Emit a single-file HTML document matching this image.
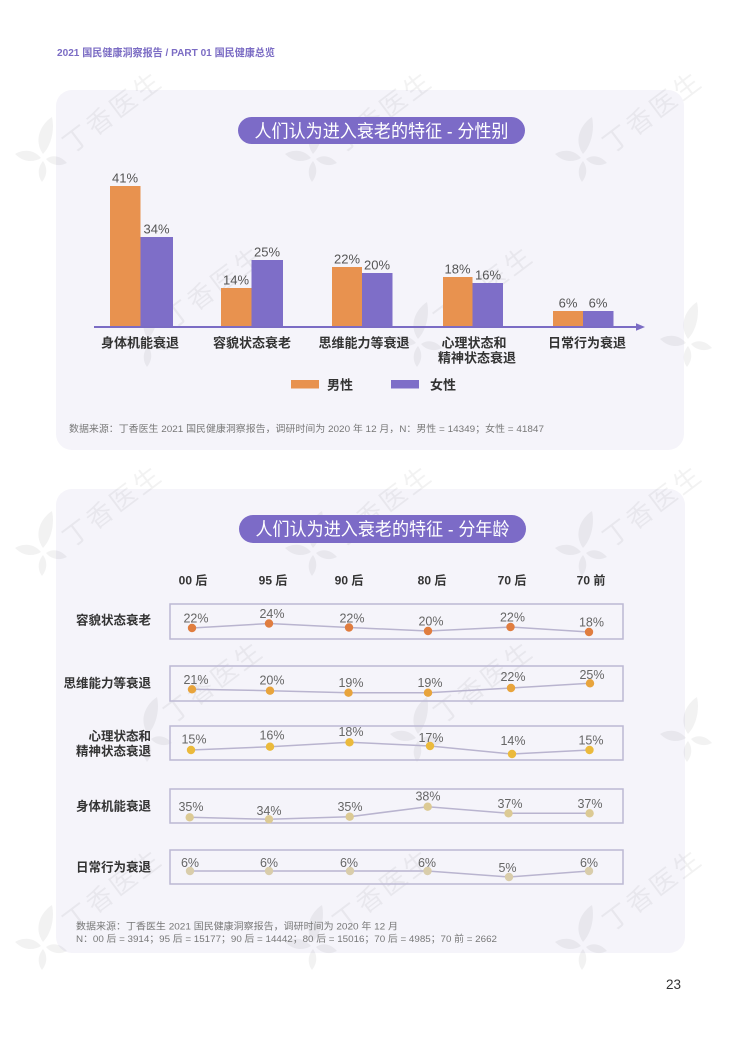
<!DOCTYPE html>
<html><head><meta charset="utf-8"><style>
html,body{margin:0;padding:0;background:#fff;}
svg{display:block;}
</style></head><body>
<svg width="735" height="1039" viewBox="0 0 735 1039" xmlns="http://www.w3.org/2000/svg" font-family="'Liberation Sans','Noto Sans CJK SC',sans-serif">
<rect width="735" height="1039" fill="#ffffff"/>
<text x="57" y="56" font-size="10.5" font-weight="bold" fill="#7b6cc4" textLength="218" lengthAdjust="spacingAndGlyphs">2021 国民健康洞察报告 / PART 01 国民健康总览</text>

<!-- cards -->
<rect x="56" y="90" width="628" height="360" rx="16" fill="#f5f4fa"/>
<rect x="56" y="489" width="629" height="464" rx="16" fill="#f5f4fa"/>

<!-- watermarks -->
<g fill="#000" fill-opacity="0.05">
  <g transform="translate(43,158)"><path d="M0,-4 C-10,-18 -2,-34 9,-41 C12,-28 8,-12 0,-4 Z M-2,0 C-10,-10 -22,-8 -28,-4 C-20,4 -10,5 -2,0 Z M3,1 C10,-4 18,-2 24,5 C16,9 8,7 3,1 Z M0,3 C5,10 4,18 -1,24 C-6,17 -5,9 0,3 Z"/><text transform="translate(74,-38) rotate(-37)" font-size="26" text-anchor="middle" textLength="114">丁香医生</text></g>
  <g transform="translate(313,158)"><path d="M0,-4 C-10,-18 -2,-34 9,-41 C12,-28 8,-12 0,-4 Z M-2,0 C-10,-10 -22,-8 -28,-4 C-20,4 -10,5 -2,0 Z M3,1 C10,-4 18,-2 24,5 C16,9 8,7 3,1 Z M0,3 C5,10 4,18 -1,24 C-6,17 -5,9 0,3 Z"/><text transform="translate(74,-38) rotate(-37)" font-size="26" text-anchor="middle" textLength="114">丁香医生</text></g>
  <g transform="translate(583,158)"><path d="M0,-4 C-10,-18 -2,-34 9,-41 C12,-28 8,-12 0,-4 Z M-2,0 C-10,-10 -22,-8 -28,-4 C-20,4 -10,5 -2,0 Z M3,1 C10,-4 18,-2 24,5 C16,9 8,7 3,1 Z M0,3 C5,10 4,18 -1,24 C-6,17 -5,9 0,3 Z"/><text transform="translate(74,-38) rotate(-37)" font-size="26" text-anchor="middle" textLength="114">丁香医生</text></g>
  <g transform="translate(148,343)"><path d="M0,-4 C-10,-18 -2,-34 9,-41 C12,-28 8,-12 0,-4 Z M-2,0 C-10,-10 -22,-8 -28,-4 C-20,4 -10,5 -2,0 Z M3,1 C10,-4 18,-2 24,5 C16,9 8,7 3,1 Z M0,3 C5,10 4,18 -1,24 C-6,17 -5,9 0,3 Z"/><text transform="translate(70,-48) rotate(-37)" font-size="26" text-anchor="middle" textLength="114">丁香医生</text></g>
  <g transform="translate(418,343)"><path d="M0,-4 C-10,-18 -2,-34 9,-41 C12,-28 8,-12 0,-4 Z M-2,0 C-10,-10 -22,-8 -28,-4 C-20,4 -10,5 -2,0 Z M3,1 C10,-4 18,-2 24,5 C16,9 8,7 3,1 Z M0,3 C5,10 4,18 -1,24 C-6,17 -5,9 0,3 Z"/><text transform="translate(70,-48) rotate(-37)" font-size="26" text-anchor="middle" textLength="114">丁香医生</text></g>
  <g transform="translate(688,343)"><path d="M0,-4 C-10,-18 -2,-34 9,-41 C12,-28 8,-12 0,-4 Z M-2,0 C-10,-10 -22,-8 -28,-4 C-20,4 -10,5 -2,0 Z M3,1 C10,-4 18,-2 24,5 C16,9 8,7 3,1 Z M0,3 C5,10 4,18 -1,24 C-6,17 -5,9 0,3 Z"/></g>
  <g transform="translate(43,552)"><path d="M0,-4 C-10,-18 -2,-34 9,-41 C12,-28 8,-12 0,-4 Z M-2,0 C-10,-10 -22,-8 -28,-4 C-20,4 -10,5 -2,0 Z M3,1 C10,-4 18,-2 24,5 C16,9 8,7 3,1 Z M0,3 C5,10 4,18 -1,24 C-6,17 -5,9 0,3 Z"/><text transform="translate(74,-38) rotate(-37)" font-size="26" text-anchor="middle" textLength="114">丁香医生</text></g>
  <g transform="translate(313,552)"><path d="M0,-4 C-10,-18 -2,-34 9,-41 C12,-28 8,-12 0,-4 Z M-2,0 C-10,-10 -22,-8 -28,-4 C-20,4 -10,5 -2,0 Z M3,1 C10,-4 18,-2 24,5 C16,9 8,7 3,1 Z M0,3 C5,10 4,18 -1,24 C-6,17 -5,9 0,3 Z"/><text transform="translate(74,-38) rotate(-37)" font-size="26" text-anchor="middle" textLength="114">丁香医生</text></g>
  <g transform="translate(583,552)"><path d="M0,-4 C-10,-18 -2,-34 9,-41 C12,-28 8,-12 0,-4 Z M-2,0 C-10,-10 -22,-8 -28,-4 C-20,4 -10,5 -2,0 Z M3,1 C10,-4 18,-2 24,5 C16,9 8,7 3,1 Z M0,3 C5,10 4,18 -1,24 C-6,17 -5,9 0,3 Z"/><text transform="translate(74,-38) rotate(-37)" font-size="26" text-anchor="middle" textLength="114">丁香医生</text></g>
  <g transform="translate(148,738)"><path d="M0,-4 C-10,-18 -2,-34 9,-41 C12,-28 8,-12 0,-4 Z M-2,0 C-10,-10 -22,-8 -28,-4 C-20,4 -10,5 -2,0 Z M3,1 C10,-4 18,-2 24,5 C16,9 8,7 3,1 Z M0,3 C5,10 4,18 -1,24 C-6,17 -5,9 0,3 Z"/><text transform="translate(70,-48) rotate(-37)" font-size="26" text-anchor="middle" textLength="114">丁香医生</text></g>
  <g transform="translate(418,738)"><path d="M0,-4 C-10,-18 -2,-34 9,-41 C12,-28 8,-12 0,-4 Z M-2,0 C-10,-10 -22,-8 -28,-4 C-20,4 -10,5 -2,0 Z M3,1 C10,-4 18,-2 24,5 C16,9 8,7 3,1 Z M0,3 C5,10 4,18 -1,24 C-6,17 -5,9 0,3 Z"/><text transform="translate(70,-48) rotate(-37)" font-size="26" text-anchor="middle" textLength="114">丁香医生</text></g>
  <g transform="translate(688,738)"><path d="M0,-4 C-10,-18 -2,-34 9,-41 C12,-28 8,-12 0,-4 Z M-2,0 C-10,-10 -22,-8 -28,-4 C-20,4 -10,5 -2,0 Z M3,1 C10,-4 18,-2 24,5 C16,9 8,7 3,1 Z M0,3 C5,10 4,18 -1,24 C-6,17 -5,9 0,3 Z"/></g>
  <g transform="translate(43,946)"><path d="M0,-4 C-10,-18 -2,-34 9,-41 C12,-28 8,-12 0,-4 Z M-2,0 C-10,-10 -22,-8 -28,-4 C-20,4 -10,5 -2,0 Z M3,1 C10,-4 18,-2 24,5 C16,9 8,7 3,1 Z M0,3 C5,10 4,18 -1,24 C-6,17 -5,9 0,3 Z"/><text transform="translate(74,-48) rotate(-37)" font-size="26" text-anchor="middle" textLength="114">丁香医生</text></g>
  <g transform="translate(313,946)"><path d="M0,-4 C-10,-18 -2,-34 9,-41 C12,-28 8,-12 0,-4 Z M-2,0 C-10,-10 -22,-8 -28,-4 C-20,4 -10,5 -2,0 Z M3,1 C10,-4 18,-2 24,5 C16,9 8,7 3,1 Z M0,3 C5,10 4,18 -1,24 C-6,17 -5,9 0,3 Z"/><text transform="translate(74,-48) rotate(-37)" font-size="26" text-anchor="middle" textLength="114">丁香医生</text></g>
  <g transform="translate(583,946)"><path d="M0,-4 C-10,-18 -2,-34 9,-41 C12,-28 8,-12 0,-4 Z M-2,0 C-10,-10 -22,-8 -28,-4 C-20,4 -10,5 -2,0 Z M3,1 C10,-4 18,-2 24,5 C16,9 8,7 3,1 Z M0,3 C5,10 4,18 -1,24 C-6,17 -5,9 0,3 Z"/><text transform="translate(74,-48) rotate(-37)" font-size="26" text-anchor="middle" textLength="114">丁香医生</text></g>
</g>

<!-- ===== Chart 1 ===== -->
<rect x="238" y="117" width="287" height="27" rx="13.5" fill="#7c6bc7"/>
<text x="381.5" y="137.5" font-size="18" fill="#ffffff" text-anchor="middle" textLength="254" lengthAdjust="spacingAndGlyphs">人们认为进入衰老的特征 - 分性别</text>

<g>
  <rect x="110" y="186" width="30.5" height="141" fill="#e8924f"/>
  <rect x="140.5" y="237" width="32.5" height="90" fill="#7e6ec8"/>
  <rect x="221" y="288" width="30.5" height="39" fill="#e8924f"/>
  <rect x="251.5" y="260" width="31.5" height="67" fill="#7e6ec8"/>
  <rect x="332" y="267" width="30" height="60" fill="#e8924f"/>
  <rect x="362" y="273" width="30.5" height="54" fill="#7e6ec8"/>
  <rect x="443" y="277" width="29.5" height="50" fill="#e8924f"/>
  <rect x="472.5" y="283" width="30.5" height="44" fill="#7e6ec8"/>
  <rect x="553" y="311" width="30" height="16" fill="#e8924f"/>
  <rect x="583" y="311" width="30.5" height="16" fill="#7e6ec8"/>
</g>
<g font-size="13" fill="#555" text-anchor="middle">
  <text x="125" y="182.5">41%</text>
  <text x="156.5" y="233.5">34%</text>
  <text x="236" y="284.5">14%</text>
  <text x="267" y="256.5">25%</text>
  <text x="347" y="263.5">22%</text>
  <text x="377" y="269.5">20%</text>
  <text x="457.5" y="273.5">18%</text>
  <text x="488" y="279.5">16%</text>
  <text x="568" y="307.5">6%</text>
  <text x="598" y="307.5">6%</text>
</g>
<line x1="94" y1="327" x2="638" y2="327" stroke="#7b6cc4" stroke-width="2"/>
<polygon points="636,323.3 645,327 636,330.7" fill="#7b6cc4"/>

<g font-size="13" font-weight="bold" fill="#333" text-anchor="middle">
  <text x="140" y="347.5">身体机能衰退</text>
  <text x="252" y="347.5">容貌状态衰老</text>
  <text x="364" y="347.5">思维能力等衰退</text>
  <text x="474" y="347.5">心理状态和</text>
  <text x="477" y="362.5">精神状态衰退</text>
  <text x="587" y="347.5">日常行为衰退</text>
</g>

<rect x="291" y="380" width="28" height="8.5" fill="#e8924f"/>
<text x="327" y="389.5" font-size="13" font-weight="bold" fill="#333">男性</text>
<rect x="391" y="380" width="28" height="8.5" fill="#7e6ec8"/>
<text x="430" y="389.5" font-size="13" font-weight="bold" fill="#333">女性</text>

<text x="69" y="432" font-size="9.5" fill="#777" textLength="475" lengthAdjust="spacingAndGlyphs">数据来源：丁香医生 2021 国民健康洞察报告，调研时间为 2020 年 12 月，N：男性 = 14349；女性 = 41847</text>

<!-- ===== Chart 2 ===== -->
<rect x="239" y="515" width="287" height="28" rx="14" fill="#7c6bc7"/>
<text x="382.5" y="535.5" font-size="18" fill="#ffffff" text-anchor="middle" textLength="254" lengthAdjust="spacingAndGlyphs">人们认为进入衰老的特征 - 分年龄</text>

<g font-size="12" font-weight="bold" fill="#333" text-anchor="middle">
  <text x="193" y="584.5">00 后</text>
  <text x="273" y="584.5">95 后</text>
  <text x="349" y="584.5">90 后</text>
  <text x="432" y="584.5">80 后</text>
  <text x="512" y="584.5">70 后</text>
  <text x="591" y="584.5">70 前</text>
</g>

<g fill="none" stroke="#bcb8d3" stroke-width="1.5">
  <rect x="170" y="604" width="453" height="35"/>
  <rect x="170" y="666" width="453" height="35"/>
  <rect x="170" y="726" width="453" height="34"/>
  <rect x="170" y="789" width="453" height="34"/>
  <rect x="170" y="850" width="453" height="34"/>
</g>

<g font-size="12.5" font-weight="bold" fill="#333" text-anchor="end">
  <text x="151" y="624.5">容貌状态衰老</text>
  <text x="151" y="687.5">思维能力等衰退</text>
  <text x="151" y="740.5">心理状态和</text>
  <text x="151" y="755.5">精神状态衰退</text>
  <text x="151" y="810.5">身体机能衰退</text>
  <text x="151" y="871.5">日常行为衰退</text>
</g>

<g fill="none" stroke="#b9b4cf" stroke-width="1.5">
  <polyline points="192,628 269,623.5 349,627.5 428,631 510.5,627 589,632"/>
  <polyline points="192,689.3 270,690.7 348.5,692.7 428,692.7 511,688 590,683.3"/>
  <polyline points="191,750 270,746.7 349.5,742.3 430,746 512,754 589.5,750"/>
  <polyline points="189.7,817.3 269,819.3 349.7,816.7 427.7,806.7 508.5,813.3 589.6,813.3"/>
  <polyline points="190,871 269,871 350,871 427.5,871 509,877 589,871"/>
</g>

<g fill="#e07d3f">
  <circle cx="192" cy="628" r="4.2"/><circle cx="269" cy="623.5" r="4.2"/><circle cx="349" cy="627.5" r="4.2"/>
  <circle cx="428" cy="631" r="4.2"/><circle cx="510.5" cy="627" r="4.2"/><circle cx="589" cy="632" r="4.2"/>
</g>
<g fill="#e8a43c">
  <circle cx="192" cy="689.3" r="4.2"/><circle cx="270" cy="690.7" r="4.2"/><circle cx="348.5" cy="692.7" r="4.2"/>
  <circle cx="428" cy="692.7" r="4.2"/><circle cx="511" cy="688" r="4.2"/><circle cx="590" cy="683.3" r="4.2"/>
</g>
<g fill="#ebba3c">
  <circle cx="191" cy="750" r="4.2"/><circle cx="270" cy="746.7" r="4.2"/><circle cx="349.5" cy="742.3" r="4.2"/>
  <circle cx="430" cy="746" r="4.2"/><circle cx="512" cy="754" r="4.2"/><circle cx="589.5" cy="750" r="4.2"/>
</g>
<g fill="#dcca94">
  <circle cx="189.7" cy="817.3" r="4.2"/><circle cx="269" cy="819.3" r="4.2"/><circle cx="349.7" cy="816.7" r="4.2"/>
  <circle cx="427.7" cy="806.7" r="4.2"/><circle cx="508.5" cy="813.3" r="4.2"/><circle cx="589.6" cy="813.3" r="4.2"/>
</g>
<g fill="#d9cdab">
  <circle cx="190" cy="871" r="4.2"/><circle cx="269" cy="871" r="4.2"/><circle cx="350" cy="871" r="4.2"/>
  <circle cx="427.5" cy="871" r="4.2"/><circle cx="509" cy="877" r="4.2"/><circle cx="589" cy="871" r="4.2"/>
</g>

<g font-size="12.5" fill="#666" text-anchor="middle">
  <text x="196" y="622.5">22%</text><text x="272" y="618">24%</text><text x="352" y="622.5">22%</text>
  <text x="431" y="625.5">20%</text><text x="512.5" y="621.5">22%</text><text x="591.5" y="626.5">18%</text>

  <text x="196" y="683.8">21%</text><text x="272" y="684.5">20%</text><text x="351" y="687.2">19%</text>
  <text x="430" y="687.2">19%</text><text x="513" y="681.2">22%</text><text x="592" y="678.8">25%</text>

  <text x="194" y="743.5">15%</text><text x="272" y="739.5">16%</text><text x="351" y="736.2">18%</text>
  <text x="431" y="741.8">17%</text><text x="513" y="745.2">14%</text><text x="591" y="744.5">15%</text>

  <text x="191" y="811.2">35%</text><text x="269" y="815.2">34%</text><text x="350" y="811.2">35%</text>
  <text x="428" y="800.5">38%</text><text x="510" y="807.8">37%</text><text x="590" y="807.8">37%</text>

  <text x="190" y="867.2">6%</text><text x="269" y="867.2">6%</text><text x="349" y="867.2">6%</text>
  <text x="427" y="867.2">6%</text><text x="507.5" y="871.8">5%</text><text x="589" y="867.2">6%</text>
</g>

<text x="76" y="929.5" font-size="9.5" fill="#777" textLength="322" lengthAdjust="spacingAndGlyphs">数据来源：丁香医生 2021 国民健康洞察报告，调研时间为 2020 年 12 月</text>
<text x="76" y="942" font-size="9.5" fill="#777" textLength="421" lengthAdjust="spacingAndGlyphs">N：00 后 = 3914；95 后 = 15177；90 后 = 14442；80 后 = 15016；70 后 = 4985；70 前 = 2662</text>

<text x="681" y="989" font-size="13.5" fill="#333" text-anchor="end">23</text>
</svg>
</body></html>
